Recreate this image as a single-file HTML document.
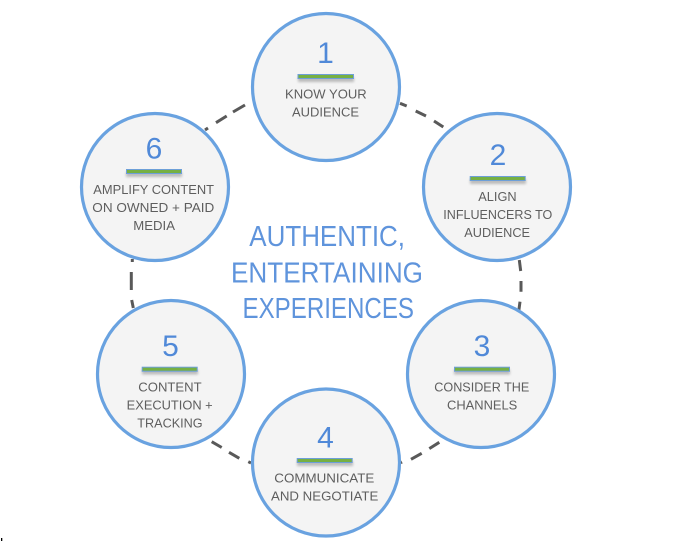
<!DOCTYPE html>
<html>
<head>
<meta charset="utf-8">
<style>
html,body{margin:0;padding:0;background:#fff;width:675px;height:541px;overflow:hidden}
svg{display:block}
text{font-family:"Liberation Sans",sans-serif}
.t{font-size:12.5px;fill:#5e5e5e}
.n{font-size:30px;fill:#5089d8;text-anchor:middle}
.h{font-size:28.5px;fill:#5f94dc}
.c{fill:#f4f4f4;stroke:#69a2e0;stroke-width:3.2}
.d{stroke:#595959;stroke-width:3;fill:none}
.bs{fill:#777;opacity:.45;filter:url(#b)}
.bb{fill:#6d9fd8}
.bg{fill:#76b043}
</style>
</head>
<body>
<svg width="675" height="541" viewBox="0 0 675 541" xmlns="http://www.w3.org/2000/svg">
<defs><filter id="b" x="-10%" y="-100%" width="120%" height="300%"><feGaussianBlur stdDeviation="1.2"/></filter></defs>
<rect width="675" height="541" fill="#fff"/>
<rect x="1" y="538" width="1.3" height="3" fill="#000"/>

<path class="d" d="M400 103.3L406.7 106M415.7 111L426 116M434 121L443.3 127"/>
<path class="d" d="M519.3 260L520.7 271M521 281V291.7M520 301.7L518.9 310"/>
<path class="d" d="M439.3 442.3L429.3 448.6M421.7 453.3L411 459.3M402 462L400.7 462.7"/>
<path class="d" d="M211.7 441.7L221.7 447.5M229 452.3L239.3 458.3M248.3 461.7L251 463"/>
<path class="d" d="M133.3 308L131.7 300M131.3 290V272M132.3 262V259"/>
<path class="d" d="M205 130L208 128M216 122.7L226.7 116M233 112L245 105"/>

<circle class="c" cx="326" cy="87" r="73.5"/>
<circle class="c" cx="497" cy="187" r="73.5"/>
<circle class="c" cx="481" cy="374" r="73.5"/>
<circle class="c" cx="326" cy="462.5" r="73.5"/>
<circle class="c" cx="171" cy="374" r="73.5"/>
<circle class="c" cx="155" cy="187" r="73.5"/>

<g>
<rect class="bs" x="298" y="77" width="56" height="5"/><rect class="bb" x="297.5" y="74" width="56.5" height="5"/><rect class="bg" x="298.5" y="75" width="54.5" height="3"/>
<rect class="bs" x="470" y="179" width="56" height="5"/><rect class="bb" x="469.7" y="176" width="56" height="5"/><rect class="bg" x="470.7" y="177" width="54" height="3"/>
<rect class="bs" x="454" y="369.5" width="56" height="5"/><rect class="bb" x="454" y="366.7" width="56" height="5"/><rect class="bg" x="455" y="367.7" width="54" height="3"/>
<rect class="bs" x="297" y="461" width="56" height="5"/><rect class="bb" x="296.7" y="458" width="56" height="5"/><rect class="bg" x="297.7" y="459" width="54" height="3"/>
<rect class="bs" x="142" y="369.5" width="56" height="5"/><rect class="bb" x="141.7" y="366.7" width="56" height="5"/><rect class="bg" x="142.7" y="367.7" width="54" height="3"/>
<rect class="bs" x="126" y="172" width="56" height="5"/><rect class="bb" x="126" y="169" width="56" height="5"/><rect class="bg" x="127" y="170" width="54" height="3"/>
</g>

<text class="n" x="325.5" y="63">1</text>
<text class="n" x="498" y="165">2</text>
<text class="n" x="482" y="356">3</text>
<text class="n" x="325.5" y="447.7">4</text>
<text class="n" x="170.5" y="356">5</text>
<text class="n" x="154" y="158.5">6</text>

<text class="t" x="285" y="98.7" textLength="81.7" lengthAdjust="spacingAndGlyphs">KNOW YOUR</text>
<text class="t" x="292" y="116.7" textLength="67" lengthAdjust="spacingAndGlyphs">AUDIENCE</text>

<text class="t" x="478.3" y="201" textLength="38.3" lengthAdjust="spacingAndGlyphs">ALIGN</text>
<text class="t" x="443.3" y="219" textLength="109" lengthAdjust="spacingAndGlyphs">INFLUENCERS TO</text>
<text class="t" x="464.3" y="237" textLength="65.7" lengthAdjust="spacingAndGlyphs">AUDIENCE</text>

<text class="t" x="434.3" y="391.7" textLength="95" lengthAdjust="spacingAndGlyphs">CONSIDER THE</text>
<text class="t" x="447" y="409.7" textLength="70.3" lengthAdjust="spacingAndGlyphs">CHANNELS</text>

<text class="t" x="274.3" y="482.7" textLength="100" lengthAdjust="spacingAndGlyphs">COMMUNICATE</text>
<text class="t" x="271" y="500.7" textLength="107.3" lengthAdjust="spacingAndGlyphs">AND NEGOTIATE</text>

<text class="t" x="138.3" y="391.7" textLength="63.3" lengthAdjust="spacingAndGlyphs">CONTENT</text>
<text class="t" x="126.7" y="409.7" textLength="86" lengthAdjust="spacingAndGlyphs">EXECUTION +</text>
<text class="t" x="137.3" y="427.7" textLength="65.3" lengthAdjust="spacingAndGlyphs">TRACKING</text>

<text class="t" x="93.3" y="194" textLength="120.7" lengthAdjust="spacingAndGlyphs">AMPLIFY CONTENT</text>
<text class="t" x="92.3" y="212" textLength="122" lengthAdjust="spacingAndGlyphs">ON OWNED + PAID</text>
<text class="t" x="133.3" y="230" textLength="41.7" lengthAdjust="spacingAndGlyphs">MEDIA</text>

<text class="h" x="249.3" y="246" textLength="155.7" lengthAdjust="spacingAndGlyphs">AUTHENTIC,</text>
<text class="h" x="231" y="282.5" textLength="192" lengthAdjust="spacingAndGlyphs">ENTERTAINING</text>
<text class="h" x="242.5" y="318" textLength="171.5" lengthAdjust="spacingAndGlyphs">EXPERIENCES</text>
</svg>
</body>
</html>
